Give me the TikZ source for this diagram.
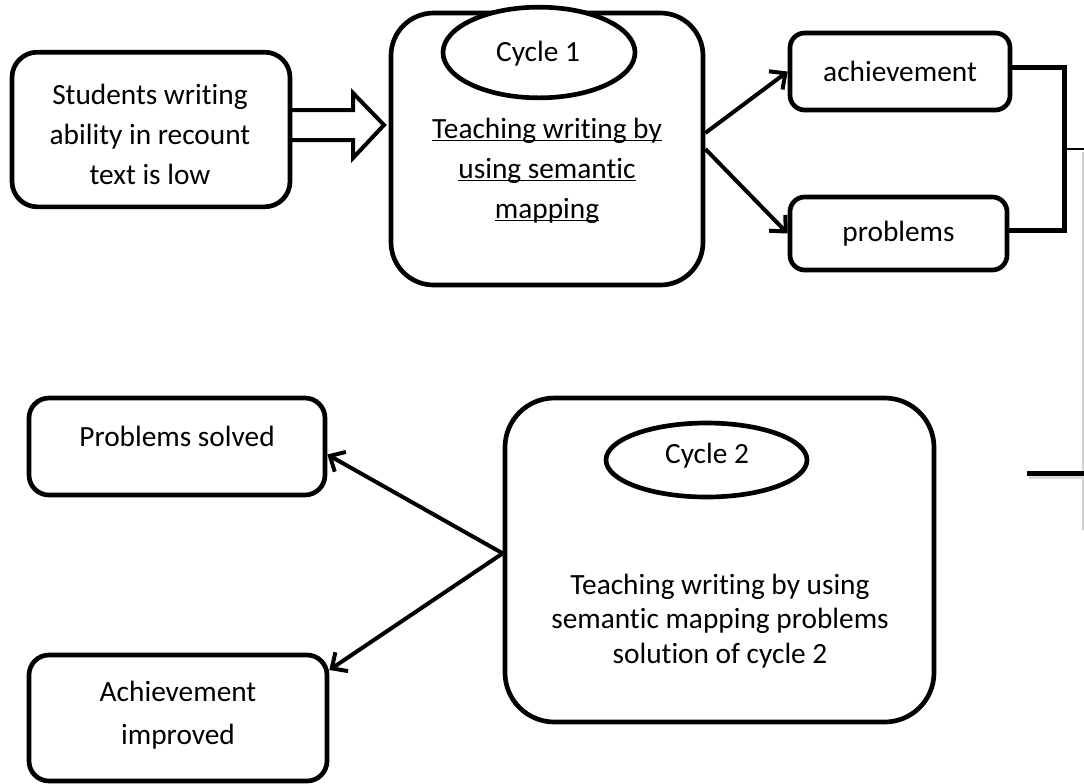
\documentclass[tikz,border=0pt]{standalone}
\usepackage{fontspec}
\setmainfont{Carlito}[Ligatures={NoCommon}]
\usetikzlibrary{arrows.meta,shapes.geometric}
\newcommand{\myul}[1]{\underline{\smash{#1}}}
\begin{document}
\begin{tikzpicture}[x=0.75pt,y=-0.75pt,
  box/.style={draw, line width=3.5pt, rounded corners=#1, inner sep=0pt,
    font=\fontsize{22}{30}\selectfont},
  box/.default=12pt,
  ell/.style={draw, ellipse, fill=white, line width=3.5pt, inner sep=0pt},
  txt/.style={align=center, inner sep=0pt, font=\fontsize{22}{30}\selectfont},
  arr/.style={line width=3pt, -{Straight Barb[length=9pt,width=17pt]}},
  openarrow/.style={draw, line width=3pt, line join=miter},
  brk/.style={line width=3.75pt, line join=miter}]
\useasboundingbox (0,0) rectangle (1084,783);

% top left box
\node[box=19pt, minimum width=208.5pt, minimum height=116pt] (boxA) at (151,129.5) {};
\node[txt] (tA) at (150,134) {Students writing\\ability in recount\\text is low};

% open block arrow
\draw[openarrow] (292,110) -- (353,110) -- (353,93) -- (384,125) -- (353,158) -- (353,140) -- (292,140);

% cycle 1
\node[box=32pt, minimum width=234pt, minimum height=204pt] (cyc1) at (547,149) {};
\node[ell, minimum width=144pt, minimum height=68pt] (e1) at (539,52.5) {};
\node[txt] (l1) at (538,54) {Cycle 1};
\node[txt] (t1) at (547,180) {\myul{Teaching writing by}\\\myul{using semantic}\\\myul{mapping}};

% achievement / problems
\node[box=11pt, minimum width=165pt, minimum height=57.75pt] (ach) at (900,71.5) {achievement};
\node[box=11pt, minimum width=162.75pt, minimum height=54.75pt] (prob) at (898.5,233.5) {problems};

\draw[arr] ([yshift=12pt]cyc1.east) -- (ach.west);
\draw[arr] (cyc1.east) -- (prob.west);

% bracket
\coordinate (bk) at (1064,149);
\coordinate (edge1) at (1084,149);
\draw[brk] ([yshift=3pt]ach.east) -| (bk) |- ([yshift=2.5pt]prob.east);
\draw[line width=0.8pt] (bk) -- (edge1);

% cut-off shape at the right edge
\draw[gray!35, line width=1.5pt] (1083,152) -- (1083,530);
\draw[gray!30, line width=3pt] (1029,476.5) -- (1084,476.5);
\draw[line width=3.75pt] (1027,473) -- (1084,473);

% cycle 2
\node[box=37pt, minimum width=321.75pt, minimum height=243pt] (cyc2) at (719.5,560) {};
\node[ell, minimum width=150.75pt, minimum height=55.5pt] (e2) at (706.5,460) {};
\node[txt] (l2) at (707,456) {Cycle 2};
\node[txt, font=\fontsize{22}{26}\selectfont] (t2) at (720,621) {Teaching writing by using\\semantic mapping problems\\solution of cycle 2};

% results
\node[box=15pt, minimum width=222pt, minimum height=72.75pt] (psol) at (177,446.5) {};
\node[txt] (tps) at (177,436) {Problems solved};
\node[box=15pt, minimum width=223.5pt, minimum height=94.5pt] (aimp) at (178,718) {};
\node[txt, font=\fontsize{22}{32}\selectfont] (tai) at (178,715) {Achievement\\improved};

\draw[arr] ([yshift=5pt]cyc2.west) -- ([yshift=-6pt]psol.east);
\draw[arr] ([yshift=5pt]cyc2.west) -- ([yshift=36pt]aimp.east);
\end{tikzpicture}
\end{document}
